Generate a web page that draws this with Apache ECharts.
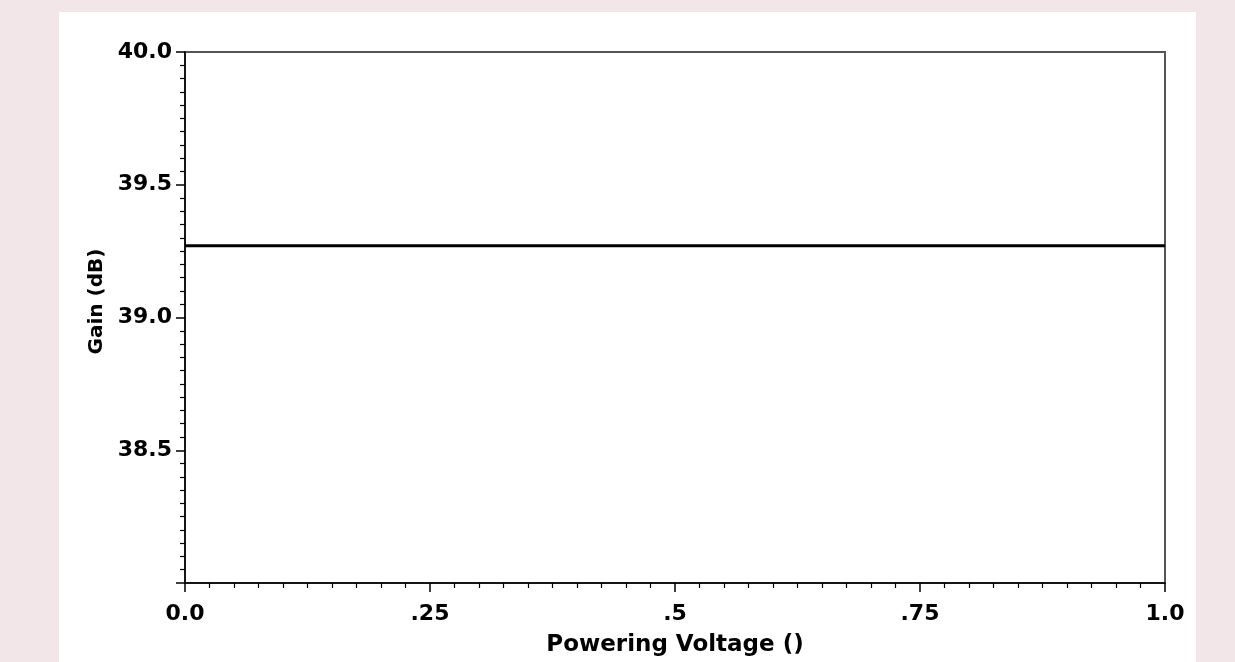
<!DOCTYPE html>
<html>
<head>
<meta charset="utf-8">
<script src="https://cdn.jsdelivr.net/npm/echarts@6/dist/echarts.min.js"></script>
<style>
  html, body {
    margin: 0;
    width: 1235px;
    height: 662px;
    background: #f3e6e9;
    overflow: hidden;
  }
  #chart {
    position: absolute;
    left: 59px;
    top: 12px;
    width: 1137px;
    height: 650px;
    background: #ffffff;
  }
</style>
</head>
<body>
<div id="chart"></div>
<script>
// data
const voltage = [0, 1];
const gain = [39.27, 39.27];
const xTickLabels = ['0.0', '.25', '.5', '.75', '1.0'];
const yTickLabels = ['38.0', '38.5', '39.0', '39.5', '40.0'];

const font = 'DejaVu Sans';

const chart = echarts.init(document.getElementById('chart'));
chart.setOption({
  animation: false,
  grid: {
    left: 126,
    top: 40,
    right: 31,
    bottom: 78,
    show: true,
    borderColor: '#555',
    borderWidth: 2,
    backgroundColor: 'transparent'
  },
  xAxis: {
    type: 'value',
    min: 0,
    max: 1,
    interval: 0.25,
    name: 'Powering Voltage ()',
    nameLocation: 'middle',
    nameGap: 51,
    nameTextStyle: { color: '#000', fontFamily: font, fontSize: 23, fontWeight: 'bold' },
    axisLine: { show: true, lineStyle: { color: '#000', width: 1.5 } },
    axisTick: { show: true, length: 9, lineStyle: { color: '#000', width: 1.5 } },
    minorTick: { show: true, splitNumber: 10, length: 5, lineStyle: { color: '#000', width: 1.2 } },
    splitLine: { show: false },
    axisLabel: {
      color: '#000',
      fontFamily: font,
      fontSize: 22,
      fontWeight: 'bold',
      margin: 20,
      formatter: (v) => xTickLabels[Math.round(v / 0.25)]
    }
  },
  yAxis: {
    type: 'value',
    min: 38,
    max: 40,
    interval: 0.5,
    name: 'Gain (dB)',
    nameLocation: 'middle',
    nameGap: 69,
    nameTextStyle: { color: '#000', fontFamily: font, fontSize: 20, fontWeight: 'bold', padding: [0, 0, 0, 32] },
    axisLine: { show: true, lineStyle: { color: '#000', width: 1.5 } },
    axisTick: { show: true, length: 9, lineStyle: { color: '#000', width: 1.5 } },
    minorTick: { show: true, splitNumber: 10, length: 5, lineStyle: { color: '#000', width: 1.2 } },
    splitLine: { show: false },
    axisLabel: {
      color: '#000',
      fontFamily: font,
      fontSize: 22,
      fontWeight: 'bold',
      margin: 13,
      showMinLabel: false,
      formatter: (v) => yTickLabels[Math.round((v - 38) / 0.5)]
    }
  },
  series: [
    {
      type: 'line',
      data: voltage.map((x, i) => [x, gain[i]]),
      showSymbol: false,
      lineStyle: { color: '#000', width: 3 }
    }
  ]
});
</script>
</body>
</html>
